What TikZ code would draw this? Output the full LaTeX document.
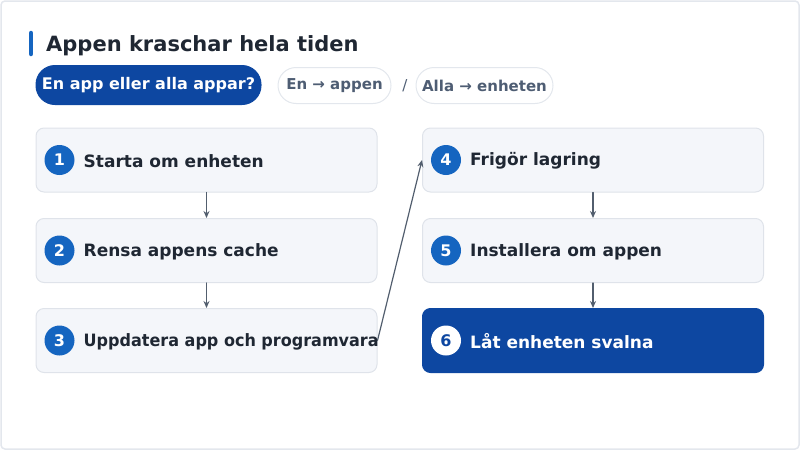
\documentclass[tikz,border=0pt]{standalone}
\usepackage{fontspec}
\setmainfont{DejaVu Sans}
\usetikzlibrary{arrows.meta}
\definecolor{navy}{HTML}{0D47A1}
\definecolor{accent}{HTML}{1565C0}
\definecolor{boxfill}{HTML}{F4F6FA}
\definecolor{boxline}{HTML}{DFE3EA}
\definecolor{ink}{HTML}{1F2733}
\definecolor{slate}{HTML}{4E5D73}
\definecolor{wire}{HTML}{525E6E}
\definecolor{frame}{HTML}{E3E7ED}
\begin{document}
\begin{tikzpicture}[x=1pt, y=-1pt, every node/.style={font=\bfseries}, line cap=round, line join=round]
  \tikzset{stepbox/.style={draw=boxline, fill=boxfill, line width=1pt, rounded corners=8pt, minimum width=341pt, minimum height=64pt, inner sep=0pt},
    lastbox/.style={stepbox, draw=navy, fill=navy},
    num/.style={circle, fill=accent, text=white, minimum size=30pt, inner sep=0pt, font=\bfseries\fontsize{16}{19}\selectfont},
    lastnum/.style={num, fill=white, text=navy},
    steptext/.style={anchor=west, inner sep=0pt, text=ink, font=\bfseries\fontsize{17}{20}\selectfont},
    pill/.style={draw=frame, fill=white, line width=1pt, rounded corners=18pt, minimum height=36pt, inner sep=0pt, text=slate, font=\bfseries\fontsize{15}{18}\selectfont},
    link/.style={draw=wire, line width=1.2pt, -{Stealth[length=7pt, width=6pt]}}}

  \useasboundingbox (0,0) rectangle (800,450);
  \draw[frame, line width=1.5pt, rounded corners=4pt] (1,1) rectangle (799,449);

  % title with its blue marker bar
  \draw[accent, line width=4.5pt] (31,33)--(31,54);
  \node[anchor=west, inner sep=0pt, text=ink, font=\bfseries\fontsize{21}{25}\selectfont] (title) at (46,45.5) {Appen kraschar hela tiden};

  % question pill and the two answers
  \node[pill, draw=navy, fill=navy, text=white, rounded corners=19pt, minimum width=225pt, minimum height=39pt, font=\bfseries\fontsize{16}{19}\selectfont] (ask) at (148.5,85) {En app eller alla appar?};
  \node[pill, minimum width=113pt] (one) at (334.5,85.5) {En → appen};
  \node[text=slate, font=\fontsize{15}{18}\selectfont] (slash) at (405,85.5) {/};
  \node[pill, minimum width=137pt] (all) at (484.5,85.5) {Alla → enheten};

  % steps 1--5: light boxes, numbered badge, bold label
  \foreach \i/\x/\y/\t in {1/206.5/160/Starta om enheten, 2/206.5/250.5/Rensa appens cache, 3/206.5/340.5/\scalebox{.942}[1]{Uppdatera app och programvara}, 4/593/160/Frigör lagring, 5/593/250.5/Installera om appen} {
    \node[stepbox] (s\i) at (\x,\y) {};
    \node[num] (n\i) at ([xshift=24pt]s\i.west) {\i};
    \node[steptext] (t\i) at ([xshift=48pt, yshift=-1pt]s\i.west) {\t};
  }

  % step 6 is highlighted
  \node[lastbox] (s6) at (593,340.5) {};
  \node[lastnum] (n6) at ([xshift=24pt]s6.west) {6};
  \node[steptext, text=white] (t6) at ([xshift=48pt, yshift=-1pt]s6.west) {Låt enheten svalna};

  % arrows down each column, and across from 3 to 4
  \foreach \a/\b in {1/2, 2/3, 4/5, 5/6} {
    \draw[link] (s\a.south) -- (s\b.north);
  }
  \draw[link] (s3.east) -- (s4.west);
\end{tikzpicture}
\end{document}
